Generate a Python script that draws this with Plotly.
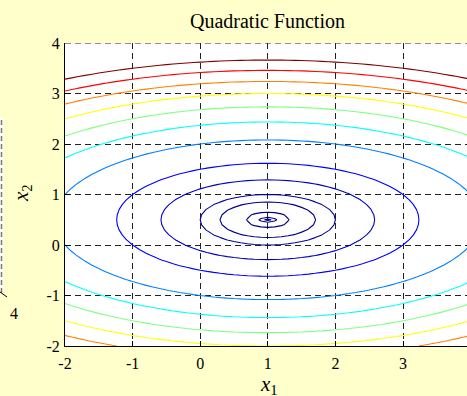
import numpy as np
import plotly.graph_objects as go

# Quadratic f(x1, x2) = a1*(x1 - c1)^2 + a2*(x2 - c2)^2
center = [1.0, 0.5]
coeffs = [1.0, 4.0]

# Contour levels drawn (each gets its own jet colour)
levels = [0.005, 0.02, 0.1, 0.5, 1, 2.5, 5, 10, 15, 20, 25, 30, 35, 40]

# Sampling grid of the function
x1_grid = np.linspace(-2, 4, 61)
x2_grid = np.linspace(-2, 4, 61)

x_ticks = [-2, -1, 0, 1, 2, 3, 4]
y_ticks = [-2, -1, 0, 1, 2, 3, 4]
x_tick_text = ["-2", "-1", "0", "1", "2", "3", "4"]
y_tick_text = ["-2", "-1", "0", "1", "2", "3", "4"]

BG = "#FFFFCC"
FONT = "Liberation Serif"
GRID = "#222222"
GRID_DASH = "6px,4px"
W, H = 467, 396
ML, MT, MB = 65, 43, 50
px_per_x = 67.6


def jet(t):
    t = min(max(t, 0.0), 1.0)
    r = min(max(1.5 - abs(4 * t - 3), 0), 1)
    g = min(max(1.5 - abs(4 * t - 2), 0), 1)
    b = min(max(1.5 - abs(4 * t - 1), 0), 1)
    return "rgb(%d,%d,%d)" % (round(r * 255), round(g * 255), round(b * 255))


X1, X2 = np.meshgrid(x1_grid, x2_grid)
Z = coeffs[0] * (X1 - center[0]) ** 2 + coeffs[1] * (X2 - center[1]) ** 2

lo, hi = min(levels), max(levels)
fig = go.Figure()
for lev in levels:
    col = jet((lev - lo) / (hi - lo))
    fig.add_trace(go.Contour(
        x=x1_grid, y=x2_grid, z=Z,
        autocontour=False,
        contours=dict(start=lev, end=lev, size=1, coloring="none", showlabels=False),
        line=dict(color=col, width=1.1, smoothing=0),
        showscale=False, hoverinfo="skip",
    ))

plot_w = W - ML
plot_h = H - MT - MB
x_hi = -2 + plot_w / px_per_x


def px_to_paper(px, py):
    return (px - ML) / plot_w, (H - MB - py) / plot_h


axis_common = dict(
    showgrid=True, gridcolor=GRID, griddash=GRID_DASH, gridwidth=1,
    zeroline=False, showline=True, linecolor="black", linewidth=1,
    ticks="inside", ticklen=5, tickcolor="black",
    tickfont=dict(family=FONT, size=16, color="black"),
)

fig.update_xaxes(range=[-2, x_hi], tickvals=x_ticks, ticktext=x_tick_text,
                 ticklabelstandoff=3, **axis_common)
fig.update_yaxes(range=[y_ticks[0], y_ticks[-1]], tickvals=y_ticks, ticktext=y_tick_text,
                 ticklabelstandoff=1, **axis_common)


def label(text, px, py, size, angle=0):
    ax, ay = px_to_paper(px, py)
    return dict(text=text, x=ax, y=ay, xref="paper", yref="paper",
                xanchor="center", yanchor="middle", textangle=angle,
                showarrow=False, font=dict(family=FONT, size=size, color="black"))


annotations = [
    label("Quadratic Function", 267, 21, 20),
    label("<i>x</i><sub>1</sub>", 269, 385, 21),
    label("<i>x</i><sub>2</sub>", 22, 193, 21, angle=-90),
    label("4", 14, 313, 16),
]

# Edge of the neighbouring panel on the left
r0x, r0y = px_to_paper(0, 118)
r1x, r1y = px_to_paper(3, 293)
dx, _ = px_to_paper(1.5, 0)
t0x, t0y = px_to_paper(0, 292)
t1x, t1y = px_to_paper(7, 297)
shapes = [
    # top grid line along the upper edge of the axes
    dict(type="line", xref="paper", yref="y", x0=0, x1=1,
         y0=y_ticks[-1], y1=y_ticks[-1],
         line=dict(color=GRID, width=1, dash=GRID_DASH)),
    dict(type="rect", xref="paper", yref="paper", x0=r0x, x1=r1x, y0=r1y, y1=r0y,
         fillcolor="white", line=dict(width=0), layer="below"),
    dict(type="line", xref="paper", yref="paper", x0=dx, x1=dx, y0=r1y, y1=r0y,
         line=dict(color="#777777", width=1.5, dash="5px,3px")),
    dict(type="line", xref="paper", yref="paper", x0=t0x, x1=t1x, y0=t0y, y1=t1y,
         line=dict(color="black", width=1)),
]

fig.update_layout(
    width=W, height=H,
    margin=dict(l=ML, r=0, t=MT, b=MB, pad=0),
    paper_bgcolor=BG, plot_bgcolor="white",
    showlegend=False,
    annotations=annotations, shapes=shapes,
    font=dict(family=FONT),
)

fig.write_html("out.html", config={"displayModeBar": False})
